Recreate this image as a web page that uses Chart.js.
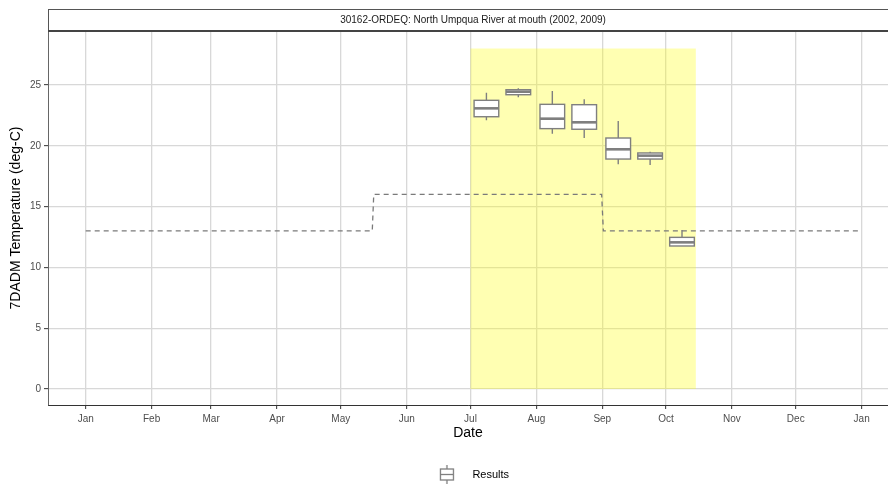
<!DOCTYPE html>
<html>
<head>
<meta charset="utf-8">
<script src="https://cdn.jsdelivr.net/npm/chart.js@4/dist/chart.umd.min.js"></script>
<style>
  html, body { margin: 0; padding: 0; background: #fff; }
</style>
</head>
<body>
<canvas id="chart" width="888" height="487"></canvas>
<script>
// panel strip text
const panelTitle = "30162-ORDEQ: North Umpqua River at mouth (2002, 2009)";

// x axis: day of year (0 = Jan 1)
const monthTicks = [0, 31, 59, 90, 120, 151, 181, 212, 243, 273, 304, 334, 365];
const monthLabels = ["Jan", "Feb", "Mar", "Apr", "May", "Jun", "Jul", "Aug", "Sep", "Oct", "Nov", "Dec", "Jan"];
const yTicks = [0, 5, 10, 15, 20, 25];

// box plots (7DADM results, half-month groups)
const boxDays = [188.5, 203.5, 219.5, 234.5, 250.5, 265.5, 280.5];
const whiskerLow = [22.1, 23.99, 21.0, 20.64, 18.48, 18.42, 11.76];
const q1 = [22.39, 24.2, 21.41, 21.36, 18.91, 18.91, 11.76];
const median = [23.08, 24.45, 22.23, 21.93, 19.71, 19.19, 12.06];
const q3 = [23.74, 24.61, 23.41, 23.38, 20.64, 19.41, 12.47];
const whiskerHigh = [24.37, 24.73, 24.5, 23.82, 22.04, 19.51, 13.07];

// criteria (dashed step line)
const criteriaDays = [0, 134.8, 135.5, 242.7, 243.5, 364];
const criteriaValues = [13, 13, 16, 16, 13, 13];

// spawning window (yellow)
const windowStart = 181;
const windowEnd = 287;
const windowTop = 28;

const FONT = "'Liberation Sans', Arial, Helvetica, sans-serif";
const BOX_GREY = "#7f7f7f";
const BOX_HALF = 5.8; // days

// legend icon
function makeLegendIcon() {
  const c = document.createElement("canvas");
  c.width = 16;
  c.height = 19;
  const g = c.getContext("2d");
  g.strokeStyle = BOX_GREY;
  g.lineWidth = 1.3;
  g.beginPath();
  g.moveTo(8, 0); g.lineTo(8, 4);
  g.moveTo(8, 15); g.lineTo(8, 19);
  g.stroke();
  g.fillStyle = "#fff";
  g.fillRect(1.5, 4, 13, 11);
  g.strokeRect(1.5, 4, 13, 11);
  g.beginPath();
  g.moveTo(1.5, 9.5); g.lineTo(14.5, 9.5);
  g.stroke();
  return c;
}
const legendIcon = makeLegendIcon();

const windowPlugin = {
  id: "windowRect",
  beforeDatasetsDraw(chart) {
    const { ctx, scales: { x, y } } = chart;
    const l = x.getPixelForValue(windowStart);
    const r = x.getPixelForValue(windowEnd);
    const t = y.getPixelForValue(windowTop);
    const b = y.getPixelForValue(0);
    ctx.save();
    ctx.fillStyle = "rgba(255,255,0,0.3)";
    ctx.fillRect(l, t, r - l, b - t);
    ctx.restore();
  }
};

const boxPlugin = {
  id: "boxPlot",
  afterDatasetsDraw(chart) {
    const { ctx, scales: { x, y } } = chart;
    ctx.save();
    ctx.strokeStyle = BOX_GREY;
    boxDays.forEach((d, i) => {
      const c = x.getPixelForValue(d);
      const l = x.getPixelForValue(d - BOX_HALF);
      const r = x.getPixelForValue(d + BOX_HALF);
      const top = y.getPixelForValue(q3[i]);
      const bot = y.getPixelForValue(q1[i]);
      ctx.lineWidth = 1.4;
      ctx.beginPath();
      ctx.moveTo(c, y.getPixelForValue(whiskerHigh[i]));
      ctx.lineTo(c, top);
      ctx.moveTo(c, bot);
      ctx.lineTo(c, y.getPixelForValue(whiskerLow[i]));
      ctx.stroke();
      ctx.fillStyle = "#fff";
      ctx.fillRect(l, top, r - l, bot - top);
      ctx.strokeRect(l, top, r - l, bot - top);
      ctx.lineWidth = 2.6;
      const m = y.getPixelForValue(median[i]);
      ctx.beginPath();
      ctx.moveTo(l, m);
      ctx.lineTo(r, m);
      ctx.stroke();
    });
    ctx.restore();
  }
};

const stripPlugin = {
  id: "strip",
  afterDraw(chart) {
    const { ctx, chartArea } = chart;
    ctx.save();
    ctx.strokeStyle = "#555";
    ctx.lineWidth = 1;
    ctx.strokeRect(chartArea.left + 0.5, 9.5, chart.width + 5, chartArea.top - 9.5);
    ctx.lineWidth = 2;
    ctx.strokeStyle = "#444";
    ctx.beginPath();
    ctx.moveTo(chartArea.left, chartArea.top);
    ctx.lineTo(chart.width, chartArea.top);
    ctx.stroke();
    ctx.fillStyle = "#1a1a1a";
    ctx.font = "10px " + FONT;
    ctx.textAlign = "center";
    ctx.textBaseline = "middle";
    ctx.fillText(panelTitle, (chartArea.left + chart.width) / 2 + 5, 20.5);
    ctx.restore();
  }
};

new Chart(document.getElementById("chart"), {
  type: "line",
  data: {
    datasets: [
      {
        label: "Criteria",
        data: criteriaDays.map((d, i) => ({ x: d, y: criteriaValues[i] })),
        borderColor: "#7a7a7a",
        borderWidth: 1.3,
        borderDash: [5, 4],
        pointRadius: 0,
        fill: false,
        tension: 0
      }
    ]
  },
  options: {
    responsive: false,
    animation: false,
    layout: { padding: { top: 31, left: 0, right: 0, bottom: -3 } },
    scales: {
      x: {
        type: "linear",
        min: -17.73,
        max: 377.4,
        afterBuildTicks: (s) => { s.ticks = monthTicks.map((v) => ({ value: v })); },
        afterFit: (s) => { s.height = 57; },
        ticks: {
          autoSkip: false,
          maxRotation: 0,
          padding: 4,
          color: "#4d4d4d",
          font: { size: 10, family: FONT },
          callback: (v, i) => monthLabels[i]
        },
        grid: { color: "#d8d8d8", lineWidth: 1.3, tickColor: "#333", tickLength: 4, tickWidth: 1 },
        border: { display: true, color: "#333", width: 1 },
        title: {
          display: true,
          text: "Date",
          color: "#000",
          font: { size: 14, family: FONT },
          padding: { top: 0, bottom: 20 }
        }
      },
      y: {
        type: "linear",
        min: -1.316,
        max: 29.44,
        afterBuildTicks: (s) => { s.ticks = yTicks.map((v) => ({ value: v })); },
        afterFit: (s) => { s.width = 48; },
        ticks: {
          padding: 3,
          color: "#4d4d4d",
          font: { size: 10, family: FONT }
        },
        grid: { color: "#d8d8d8", lineWidth: 1.3, tickColor: "#333", tickLength: 4, tickWidth: 1 },
        border: { display: true, color: "#666", width: 1 },
        title: {
          display: true,
          text: "7DADM Temperature (deg-C)",
          color: "#000",
          font: { size: 14, family: FONT },
          padding: { top: 8, bottom: 0 }
        }
      }
    },
    plugins: {
      title: { display: false },
      tooltip: { enabled: false },
      legend: {
        position: "bottom",
        fullSize: false,
        labels: {
          usePointStyle: true,
          pointStyleWidth: 40,
          padding: 7,
          color: "#1a1a1a",
          font: { size: 11, family: FONT },
          generateLabels: () => [{
            text: "Results",
            pointStyle: legendIcon,
            fillStyle: "#fff",
            strokeStyle: BOX_GREY,
            lineWidth: 0,
            hidden: false,
            datasetIndex: 0
          }]
        }
      }
    }
  },
  plugins: [windowPlugin, boxPlugin, stripPlugin]
});
</script>
</body>
</html>
